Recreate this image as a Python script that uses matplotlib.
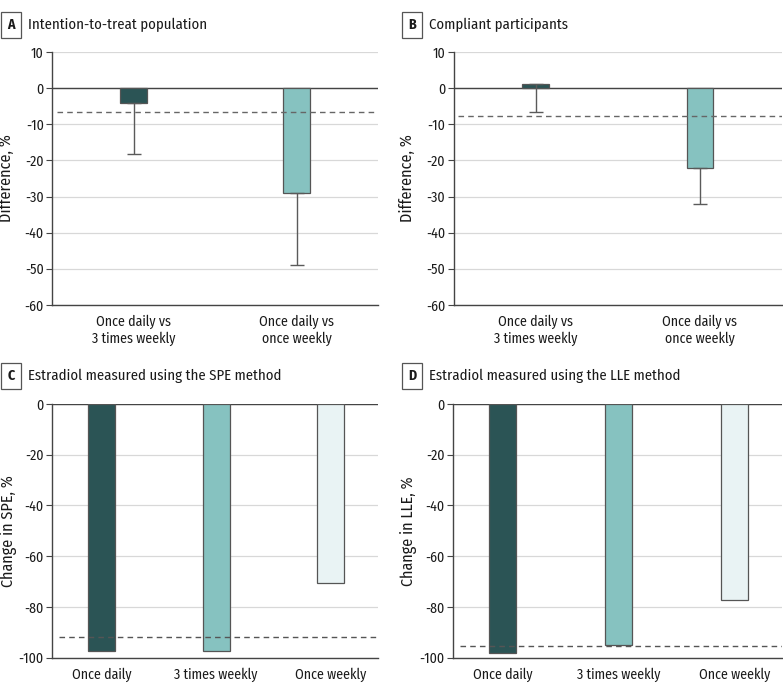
import matplotlib
matplotlib.use("Agg")
import matplotlib.pyplot as plt
from matplotlib import font_manager
import numpy as np

# ---------------- data ----------------
diff_labels = ["Once daily vs\n3 times weekly", "Once daily vs\nonce weekly"]
a_values = [-4.0, -29.0]
a_lower = [-18.3, -49.0]
a_ref = -6.5
b_values = [1.2, -22.0]
b_lower = [-6.5, -32.0]
b_ref = -7.8

group_labels = ["Once daily", "3 times weekly", "Once weekly"]
c_values = [-97.2, -97.2, -70.7]
c_ref = -91.8
d_values = [-98.0, -95.1, -77.4]
d_ref = -95.4

diff_ticks = [10, 0, -10, -20, -30, -40, -50, -60]
change_ticks = [0, -20, -40, -60, -80, -100]

# ---------------- style ----------------
names = {f.name for f in font_manager.fontManager.ttflist}
fam = "DejaVu Sans"
for cand in ["Fira Sans Condensed", "Roboto Condensed", "PT Sans Narrow", "Archivo Narrow",
             "Liberation Sans Narrow", "Liberation Sans"]:
    if cand in names:
        fam = cand
        break
plt.rcParams["font.family"] = [fam, "DejaVu Sans"]

dark = "#2b5455"
mid = "#86c2c0"
light = "#e9f3f4"
edge = "#555555"
grid_c = "#d8d8d8"
axis_c = "#444444"
text_c = "#1a1a1a"
TICK_FS = 10
TITLE_FS = 10.6
YLAB_FS = 11.6

fig = plt.figure(figsize=(7.83, 6.9), dpi=100)

def frac(x0, x1, ytop, ybot):
    return [x0 / 783, 1 - ybot / 690, (x1 - x0) / 783, (ybot - ytop) / 690]

axA = fig.add_axes(frac(52, 378, 52, 305))
axB = fig.add_axes(frac(453.5, 782, 52, 305))
axC = fig.add_axes(frac(52, 378, 404, 657.7))
axD = fig.add_axes(frac(453, 782, 404, 657.7))

def style(ax, ticks, ylabel, label_x):
    ax.set_ylim(min(ticks), max(ticks))
    ax.set_yticks(ticks)
    ax.set_yticklabels([str(t) for t in ticks], fontsize=TICK_FS, color=text_c)
    for t in ticks:
        ax.axhline(t, color=grid_c, lw=0.9, zorder=0)
    for s in ["top", "right"]:
        ax.spines[s].set_visible(False)
    ax.spines["left"].set_color(axis_c)
    ax.spines["bottom"].set_color(axis_c)
    ax.spines["left"].set_linewidth(1)
    ax.spines["bottom"].set_linewidth(1)
    ax.axhline(0, color=axis_c, lw=1, zorder=1)
    ax.tick_params(axis="y", length=4, color=axis_c, pad=2)
    ax.tick_params(axis="x", length=0, pad=7, labelsize=TICK_FS, labelcolor=text_c)
    ax.set_ylabel(ylabel, fontsize=YLAB_FS, color=text_c)
    ax.yaxis.set_label_coords(label_x, 0.5)

def diff_panel(ax, vals, lower, ref, label_x):
    x = np.arange(len(vals))
    ax.set_xlim(-0.5, 1.5)
    ax.bar(x, vals, width=0.16, color=[dark, mid], edgecolor=edge, linewidth=0.9, zorder=3)
    err = [np.array(vals) - np.array(lower), np.zeros(len(vals))]
    ax.errorbar(x, vals, yerr=err, fmt="none", ecolor="#5a5a5a", elinewidth=1,
                capsize=5, capthick=1, zorder=5)
    ax.axhline(ref, xmin=0.015, xmax=1, color="#666666", lw=1, ls=(0, (4, 3)), zorder=4)
    ax.set_xticks(x)
    ax.set_xticklabels(diff_labels, linespacing=1.2)
    style(ax, diff_ticks, "Difference, %", label_x)

def change_panel(ax, vals, ref, ylabel, label_x):
    x = np.arange(len(vals))
    ax.set_xlim(-0.43, 2.41)
    ax.bar(x, vals, width=0.235, color=[dark, mid, light], edgecolor=edge, linewidth=0.9, zorder=3)
    ax.axhline(ref, xmin=0.02, xmax=1, color="#555555", lw=1, ls=(0, (4, 3)), zorder=4)
    ax.set_xticks(x)
    ax.set_xticklabels(group_labels)
    style(ax, change_ticks, ylabel, label_x)

diff_panel(axA, a_values, a_lower, a_ref, -0.115)
diff_panel(axB, b_values, b_lower, b_ref, -0.115)
change_panel(axC, c_values, c_ref, "Change in SPE, %", -0.108)
change_panel(axD, d_values, d_ref, "Change in LLE, %", -0.108)

def panel_title(xbox, ybox, letter, text):
    fig.text(xbox / 783, 1 - ybox / 690, letter, fontsize=TICK_FS, fontweight="bold",
             ha="center", va="center", color=text_c,
             bbox=dict(boxstyle="square,pad=0.45", fc="white", ec="#555555", lw=0.9))
    fig.text((xbox + 17) / 783, 1 - ybox / 690, text, fontsize=TITLE_FS, ha="left",
             va="center", color=text_c)

panel_title(11, 25, "A", "Intention-to-treat population")
panel_title(412, 25, "B", "Compliant participants")
panel_title(11, 376, "C", "Estradiol measured using the SPE method")
panel_title(412, 376, "D", "Estradiol measured using the LLE method")

fig.savefig("out.png", dpi=100)
